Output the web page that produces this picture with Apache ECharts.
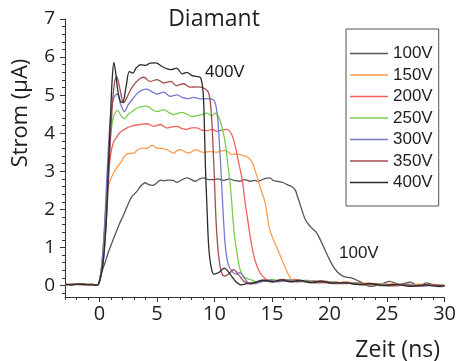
<!DOCTYPE html>
<html>
<head>
<meta charset="utf-8">
<script src="https://cdn.jsdelivr.net/npm/echarts@6/dist/echarts.min.js"></script>
<style>
html,body{margin:0;padding:0;background:#fff;}
#c{width:459px;height:361px;}
</style>
</head>
<body>
<div id="c"></div>
<script>
// ---- data (time in ns, current in µA) ----
const seriesNames = ['100V','150V','200V','250V','300V','350V','400V'];
const seriesColors = ['#555555','#ff9c4e','#ee625a','#7acc4c','#7479cc','#a04e4c','#2a2a2a'];

const t100 = [-3,-2.4,-1.8,-1.2,-0.6,-0.2,0.1,0.5,0.8,1.24,1.7,2.1,2.5,2.83,3.27,3.6,3.99,4.28,4.6,5.0,5.29,5.6,6.0,6.4,6.74,7.1,7.6,8.0,8.33,8.7,9.05,9.5,9.91,10.3,10.8,11.3,11.7,12.2,12.6,13.1,13.5,13.8,14.3,14.8,15.1,15.4,16.0,16.3,16.7,17.0,17.2,17.4,17.9,18.3,18.6,18.9,19.2,19.6,20.0,20.3,20.7,21.2,21.9,22.6,23.5,24.4,25.2,26.1,27.0,27.8,28.4,29.6,30];
const i100 = [0.03,0.02,0.04,0.03,0.03,0.01,0.28,0.62,0.9,1.25,1.6,1.86,2.15,2.34,2.48,2.62,2.7,2.65,2.63,2.7,2.77,2.75,2.77,2.76,2.71,2.77,2.83,2.78,2.74,2.8,2.83,2.78,2.78,2.8,2.76,2.8,2.76,2.74,2.78,2.74,2.76,2.74,2.8,2.83,2.76,2.74,2.7,2.65,2.6,2.52,2.35,2.17,1.73,1.56,1.47,1.38,1.2,0.94,0.68,0.51,0.35,0.24,0.2,0.11,-0.02,0.03,0.11,0.03,0.09,-0.02,0.07,-0.03,0.0];

const t150 = [-3,-2.5,-1.9,-1.3,-0.7,-0.2,0.1,0.4,0.67,0.95,1.4,1.82,2.4,2.98,3.3,3.7,4.1,4.57,5.0,5.4,5.87,6.45,6.75,7.03,7.4,7.75,8.05,8.33,8.7,9.05,9.6,10.2,10.5,10.93,11.2,11.5,11.85,12.2,12.5,12.8,13.24,13.5,14.0,14.4,14.8,15.5,16.1,16.7,17.3,18.0,18.8,19.6,20.5,21.4,22.4,23.4,24.4,25.5,26.6,27.7,28.8,29.6,30];
const i150 = [0.02,0.04,0.03,0.02,0.04,0.01,0.32,1.3,2.48,2.78,3.05,3.22,3.46,3.48,3.56,3.61,3.6,3.68,3.61,3.6,3.57,3.48,3.55,3.57,3.52,3.48,3.52,3.57,3.53,3.5,3.52,3.5,3.53,3.55,3.5,3.44,3.46,3.44,3.41,3.39,3.26,3.05,2.55,2.17,1.47,0.94,0.51,0.16,0.1,0.14,0.09,0.12,0.06,0.1,0.04,0.07,0.01,0.05,0.0,0.04,0.0,0.02,0.0];

const t200 = [-3,-2.3,-1.7,-1.1,-0.6,-0.2,0.1,0.4,0.7,0.95,1.2,1.53,1.9,2.4,2.9,3.56,4.13,4.71,5.29,5.87,6.3,6.74,7.2,7.6,8.0,8.47,8.9,9.34,9.8,10.2,10.6,11.07,11.5,11.8,12.1,12.4,12.66,12.9,13.1,13.5,13.96,14.5,15.0,15.6,16.3,17.0,17.8,18.6,19.5,20.4,21.4,22.4,23.5,24.6,25.7,26.8,27.9,29.0,30];
const i200 = [0.03,0.02,0.04,0.02,0.03,0.01,0.28,1.2,2.6,3.4,3.75,3.92,4.05,4.14,4.2,4.23,4.25,4.18,4.23,4.14,4.17,4.18,4.12,4.1,4.14,4.14,4.08,4.07,4.1,4.05,4.08,4.1,3.96,3.66,3.22,2.8,2.17,1.7,1.29,0.68,0.33,0.16,0.1,0.15,0.11,0.16,0.1,0.13,0.07,0.1,0.05,0.08,0.02,0.05,-0.01,0.04,0.0,0.03,0.0];

const t250 = [-3,-2.4,-1.8,-1.2,-0.6,-0.2,0.1,0.4,0.7,0.95,1.2,1.59,1.9,2.17,2.5,2.83,3.2,3.56,4.13,4.6,5.0,5.58,6.0,6.45,7.17,7.6,8.04,8.9,9.34,9.77,10.06,10.35,10.7,10.95,11.15,11.35,11.5,11.7,11.95,12.2,12.5,13.1,13.7,14.3,15.0,15.8,16.6,17.4,18.2,19.1,20.0,21.0,22.0,23.1,24.3,25.5,26.7,27.9,29.0,30];
const i250 = [0.02,0.03,0.02,0.04,0.03,0.01,0.28,1.3,2.9,3.9,4.4,4.6,4.45,4.38,4.5,4.57,4.65,4.69,4.71,4.62,4.57,4.62,4.55,4.49,4.55,4.5,4.44,4.49,4.53,4.46,4.53,4.43,4.1,3.7,3.2,2.7,2.17,1.4,0.86,0.45,0.24,0.16,0.1,0.12,0.16,0.11,0.15,0.1,0.13,0.08,0.1,0.05,0.08,0.02,0.05,0.0,0.03,-0.01,0.02,0.0];

const t300 = [-3,-2.5,-1.9,-1.3,-0.7,-0.2,0.1,0.4,0.7,0.95,1.2,1.53,1.85,2.17,2.5,2.83,3.3,3.7,4.13,4.6,5.0,5.58,6.16,6.74,7.2,7.6,8.18,8.8,9.34,9.91,10.1,10.3,10.45,10.6,10.75,10.95,11.2,11.5,11.9,12.2,12.6,13.0,13.5,14.1,14.8,15.6,16.4,17.2,18.0,18.9,19.8,20.8,21.9,23.0,24.2,25.4,26.6,27.8,29.0,30];
const i300 = [0.03,0.02,0.04,0.03,0.02,0.01,0.28,1.4,3.2,4.4,4.9,5.03,4.75,4.57,4.75,4.88,5.05,5.13,5.16,5.08,5.03,5.08,4.97,5.01,4.94,4.91,4.94,4.9,4.91,4.88,4.75,4.3,3.6,2.8,1.9,1.0,0.55,0.38,0.3,0.34,0.2,0.06,0.05,0.1,0.14,0.1,0.15,0.1,0.12,0.07,0.1,0.05,0.07,0.02,0.04,-0.01,0.03,-0.02,0.01,0.0];

const t350 = [-3,-2.4,-1.8,-1.2,-0.6,-0.2,0.1,0.35,0.6,0.85,1.05,1.25,1.5,1.75,2.1,2.4,2.8,3.2,3.6,3.85,4.4,5.0,5.6,6.2,6.7,7.3,7.9,8.4,8.8,9.2,9.5,9.7,9.85,10.0,10.15,10.35,10.6,10.9,11.3,11.65,12.1,12.6,13.1,13.7,14.4,15.2,16.0,16.8,17.6,18.5,19.4,20.4,21.5,22.6,23.8,25.0,26.2,27.4,28.6,30];
const i350 = [0.02,0.04,0.03,0.02,0.03,0.01,0.22,0.7,1.7,3.2,4.4,5.2,5.49,5.2,4.8,4.95,5.19,5.35,5.45,5.47,5.36,5.41,5.32,5.36,5.25,5.3,5.21,5.22,5.21,5.16,5.05,4.6,3.8,2.7,1.6,0.8,0.35,0.25,0.32,0.42,0.28,0.1,0.04,0.1,0.14,0.1,0.16,0.1,0.12,0.07,0.1,0.05,0.08,0.02,0.05,0.0,0.03,-0.02,0.02,-0.01];

const t400 = [-3,-2.4,-1.8,-1.2,-0.6,-0.2,0.1,0.35,0.6,0.8,0.95,1.1,1.25,1.4,1.6,1.8,2.0,2.3,2.6,2.9,3.2,3.6,4.0,4.4,4.9,5.4,5.8,6.2,6.7,7.2,7.6,8.0,8.5,8.8,9.0,9.1,9.2,9.35,9.5,9.7,9.95,10.4,10.85,11.3,11.8,12.3,12.9,13.5,14.2,15.0,15.8,16.6,17.4,18.3,19.2,20.2,21.2,22.3,23.5,24.6,25.8,27.0,28.2,29.4,30];
const i400 = [0.03,0.02,0.04,0.03,0.02,0.01,0.22,0.7,1.8,3.3,4.4,5.4,5.86,5.6,5.1,4.85,4.81,5.2,5.62,5.58,5.72,5.8,5.78,5.84,5.85,5.76,5.7,5.67,5.71,5.56,5.6,5.52,5.49,5.45,5.1,4.4,3.2,2.0,1.0,0.5,0.3,0.35,0.46,0.32,0.12,0.02,0.06,0.08,0.14,0.1,0.15,0.1,0.14,0.08,0.12,0.06,0.08,0.03,0.05,0.0,0.03,-0.02,0.02,-0.02,0.0];

const timeSets = [t100,t150,t200,t250,t300,t350,t400];
const currentSets = [i100,i150,i200,i250,i300,i350,i400];

const xMajorTicks = [0,5,10,15,20,25,30];
const xMinorTicks = [-3,-2,-1,1,2,3,4,6,7,8,9,11,12,13,14,16,17,18,19,21,22,23,24,26,27,28,29];
const yMajorTicks = [0,1,2,3,4,5,6,7];
const yMinorTicks = [];
for (let v = -2; v <= 70; v += 2) { if (v % 10 !== 0) yMinorTicks.push(v / 10); }

const titleText = 'Diamant';
const xName = 'Zeit (ns)';
const yName = 'Strom (µA)';
const annotations = [{text:'400V', x:205, y:72}, {text:'100V', x:339, y:253}];

// ---- chart ----
const chart = echarts.init(document.getElementById('c'), null, {renderer:'canvas'});
const axisColor = '#333';
const textColor = '#1e1e1e';
const sansHum = '"Open Sans", "Noto Sans", sans-serif';
const sansArial = '"Liberation Sans", Arial, sans-serif';

const series = seriesNames.map((n, k) => ({
  name: n,
  type: 'line',
  xAxisIndex: 0, yAxisIndex: 0,
  symbol: 'none', showSymbol: false,
  smooth: 0.35,
  lineStyle: {width: 1.3, color: seriesColors[k]},
  itemStyle: {color: seriesColors[k]},
  data: timeSets[k].map((t, j) => [t, currentSets[k][j]]),
  z: 2
}));

const option = {
  animation: false,
  backgroundColor: '#fff',
  grid: {left: 65, right: 14, top: 19, bottom: 64, containLabel: false},
  xAxis: [
    {type:'value', min:-3, max:30, position:'bottom',
     axisLine:{show:true, onZero:false, lineStyle:{color:axisColor, width:1}},
     axisTick:{show:true, customValues:xMajorTicks, length:5, inside:false, lineStyle:{color:axisColor}},
     axisLabel:{show:true, customValues:xMajorTicks, fontSize:20, color:textColor, fontFamily:sansHum, margin:7},
     splitLine:{show:false}},
    {type:'value', min:-3, max:30, position:'bottom',
     axisLine:{show:false, onZero:false},
     axisTick:{show:true, customValues:xMinorTicks, length:3, lineStyle:{color:axisColor}},
     axisLabel:{show:false}, splitLine:{show:false}}
  ],
  yAxis: [
    {type:'value', min:-0.3, max:7, position:'left',
     axisLine:{show:true, onZero:false, lineStyle:{color:axisColor, width:1}},
     axisTick:{show:true, customValues:yMajorTicks, length:5, lineStyle:{color:axisColor}},
     axisLabel:{show:true, customValues:yMajorTicks, fontSize:19, color:textColor, fontFamily:sansHum, margin:10},
     splitLine:{show:false}},
    {type:'value', min:-0.3, max:7, position:'left',
     axisLine:{show:false, onZero:false},
     axisTick:{show:true, customValues:yMinorTicks, length:3, lineStyle:{color:axisColor}},
     axisLabel:{show:false}, splitLine:{show:false}}
  ],
  legend: {
    show: true, orient: 'vertical', left: 346, top: 29,
    padding: [16, 6, 15, 4],
    itemWidth: 38, itemHeight: 14, itemGap: 4.5,
    icon: 'path://M0 0H38V1.3H0Z',
    borderColor: '#555', borderWidth: 1, backgroundColor: '#fff',
    textStyle: {fontSize: 17, color: textColor, fontFamily: sansArial},
    data: seriesNames
  },
  graphic: [
    {type:'text', x:214, y:19, style:{text:titleText, fill:textColor, font:'23px ' + sansHum, textAlign:'center', textVerticalAlign:'middle'}},
    {type:'text', x:440, y:350, style:{text:xName, fill:textColor, font:'23px ' + sansHum, textAlign:'right', textVerticalAlign:'middle'}},
    {type:'text', x:21, y:113, rotation: Math.PI/2, style:{text:yName, fill:textColor, font:'22px ' + sansHum, textAlign:'center', textVerticalAlign:'middle'}}
  ].concat(annotations.map(a => ({type:'text', x:a.x, y:a.y, style:{text:a.text, fill:textColor, font:'17px ' + sansArial, textAlign:'left', textVerticalAlign:'middle'}}))),
  series: series
};
chart.setOption(option);
</script>
</body>
</html>
